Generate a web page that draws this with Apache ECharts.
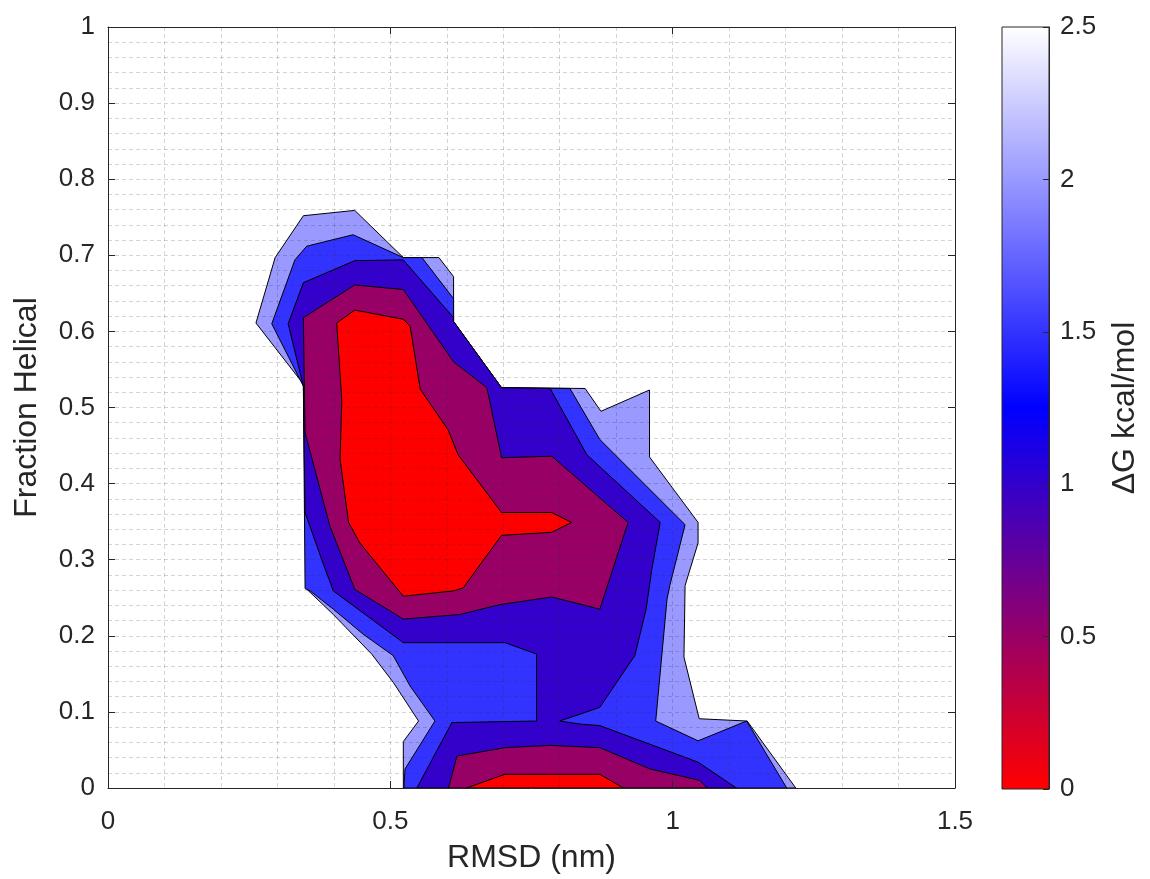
<!DOCTYPE html>
<html>
<head>
<meta charset="utf-8">
<title>Free energy landscape</title>
<script src="https://cdn.jsdelivr.net/npm/echarts@6/dist/echarts.min.js"></script>
<style>
  html, body { margin: 0; padding: 0; background: #ffffff; }
  #chart { width: 1150px; height: 879px; }
</style>
</head>
<body>
<div id="chart"></div>
<script>
// Axis ticks
const xTicks = [0, 0.5, 1, 1.5];
const yTicks = [0, 0.1, 0.2, 0.3, 0.4, 0.5, 0.6, 0.7, 0.8, 0.9, 1];
const cbarTicks = [0, 0.5, 1, 1.5, 2, 2.5];

// Colormap anchors (kcal/mol) and their colours
const cmapValues = [0, 1.25, 2.5];
const cmapColors = ['#ff0000', '#0000ff', '#ffffff'];

// Filled contour regions: each polygon is the set where dG is below the upper
// edge of its band, given as [RMSD (nm), fraction helical] vertices.
const bandLow = [2.0, 1.5, 1.0, 0.5, 0.5, 0.0, 0.0];

const region25 = [
  [0.262,0.611],[0.296,0.697],[0.346,0.752],[0.437,0.759],[0.523,0.697],[0.586,0.697],
  [0.612,0.672],[0.612,0.613],[0.697,0.526],[0.845,0.525],[0.873,0.495],[0.959,0.523],
  [0.959,0.435],[1.045,0.349],[1.045,0.322],[1.022,0.266],[1.020,0.172],[1.047,0.091],
  [1.132,0.088],[1.218,0],[0.523,0],[0.523,0.061],[0.550,0.088],[0.505,0.139],
  [0.467,0.176],[0.399,0.228],[0.351,0.262],[0.349,0.528]
];
const region20 = [
  [0.346,0.528],[0.290,0.610],[0.331,0.694],[0.352,0.712],[0.434,0.727],[0.523,0.697],
  [0.556,0.697],[0.612,0.643],[0.612,0.613],[0.697,0.526],[0.818,0.525],[0.871,0.458],
  [1.022,0.346],[0.995,0.266],[0.990,0.248],[0.970,0.088],[1.045,0.062],[1.131,0.088],
  [1.202,0],[0.524,0],[0.526,0.025],[0.579,0.088],[0.535,0.134],[0.505,0.174],
  [0.452,0.202],[0.399,0.235],[0.358,0.259],[0.349,0.262]
];
const region15 = [
  [0.346,0.528],[0.319,0.610],[0.346,0.664],[0.437,0.693],[0.523,0.694],[0.612,0.618],
  [0.612,0.613],[0.697,0.526],[0.783,0.525],[0.848,0.438],[0.978,0.349],[0.963,0.287],
  [0.953,0.235],[0.933,0.174],[0.871,0.106],[0.836,0.097],[0.800,0.088],[0.836,0.084],
  [0.871,0.082],[1.045,0.034],[1.113,0],[0.547,0],[0.609,0.086],[0.759,0.088],
  [0.759,0.176],[0.703,0.191],[0.523,0.191],[0.399,0.259],[0.378,0.301],[0.349,0.362]
];
const region10 = [
  [0.346,0.618],[0.437,0.661],[0.523,0.655],[0.612,0.560],[0.671,0.526],[0.697,0.434],
  [0.786,0.436],[0.921,0.349],[0.871,0.235],[0.786,0.251],[0.694,0.241],[0.623,0.228],
  [0.523,0.222],[0.437,0.261],[0.416,0.301],[0.393,0.344],[0.349,0.467]
];
const region10Floor = [
  [0.603,0],[0.618,0.042],[0.703,0.053],[0.783,0.056],[0.871,0.053],[0.960,0.025],
  [1.048,0.010],[1.061,0]
];
const region05 = [
  [0.405,0.611],[0.437,0.628],[0.523,0.616],[0.535,0.607],[0.553,0.524],[0.602,0.471],
  [0.620,0.438],[0.697,0.362],[0.786,0.362],[0.821,0.349],[0.786,0.336],[0.697,0.332],
  [0.629,0.263],[0.612,0.259],[0.523,0.252],[0.446,0.322],[0.426,0.349],[0.411,0.432],
  [0.414,0.510]
];
const region05Floor = [
  [0.635,0],[0.703,0.018],[0.871,0.018],[0.913,0]
];

const regions = [region25, region20, region15, region10, region10Floor, region05, region05Floor];

// Linear interpolation on the colormap
function hexToRgb(h) {
  return [parseInt(h.slice(1, 3), 16), parseInt(h.slice(3, 5), 16), parseInt(h.slice(5, 7), 16)];
}
function cmap(v) {
  for (let i = 0; i < cmapValues.length - 1; i++) {
    const a = cmapValues[i], b = cmapValues[i + 1];
    if (v <= b || i === cmapValues.length - 2) {
      const t = Math.max(0, Math.min(1, (v - a) / (b - a)));
      const c0 = hexToRgb(cmapColors[i]), c1 = hexToRgb(cmapColors[i + 1]);
      const c = c0.map((x, k) => Math.round(x + (c1[k] - x) * t));
      return 'rgb(' + c.join(',') + ')';
    }
  }
}

const FONT = "'Liberation Sans', Arial, Helvetica, sans-serif";
const INK = '#262626';
const TICK_FONT = 26;
const TITLE_FONT = 32;
const GRID_LINE = { color: 'rgba(38,38,38,0.2)', type: [4, 3], width: 1 };

const chart = echarts.init(document.getElementById('chart'), null, { renderer: 'canvas' });

const gradMin = cbarTicks[0], gradMax = cbarTicks[cbarTicks.length - 1];

const option = {
  animation: false,
  backgroundColor: '#ffffff',
  grid: [
    { left: 108, top: 27, width: 847, height: 762, show: false },
    { left: 1002, top: 27, width: 47, height: 762, show: false }
  ],
  xAxis: [
    {
      gridIndex: 0, type: 'value', min: xTicks[0], max: xTicks[xTicks.length - 1], interval: 0.5,
      position: 'bottom', z: 5,
      name: 'RMSD (nm)', nameLocation: 'middle', nameGap: 54,
      nameTextStyle: { fontFamily: FONT, fontSize: TITLE_FONT, color: INK },
      axisLine: { show: true, onZero: false, lineStyle: { color: INK, width: 1 } },
      axisTick: { show: true, inside: true, length: 7, lineStyle: { color: INK } },
      axisLabel: { fontFamily: FONT, fontSize: TICK_FONT, color: INK, margin: 21,
                   formatter: v => String(v) },
      splitLine: { show: true, lineStyle: GRID_LINE },
      minorTick: { show: false, splitNumber: 5 },
      minorSplitLine: { show: true, lineStyle: GRID_LINE }
    },
    {
      gridIndex: 0, type: 'value', min: xTicks[0], max: xTicks[xTicks.length - 1], interval: 0.5,
      position: 'top', z: 5,
      axisLine: { show: true, onZero: false, lineStyle: { color: INK, width: 1 } },
      axisTick: { show: true, inside: true, length: 7, lineStyle: { color: INK } },
      axisLabel: { show: false },
      splitLine: { show: false }
    },
    {
      gridIndex: 1, type: 'value', min: 0, max: 1, show: false
    }
  ],
  yAxis: [
    {
      gridIndex: 0, type: 'value', min: yTicks[0], max: yTicks[yTicks.length - 1], interval: 0.1,
      position: 'left', z: 5,
      name: 'Fraction Helical', nameLocation: 'middle', nameGap: 65, nameRotate: 90,
      nameTextStyle: { fontFamily: FONT, fontSize: TITLE_FONT, color: INK },
      axisLine: { show: true, onZero: false, lineStyle: { color: INK, width: 1 } },
      axisTick: { show: true, inside: true, length: 7, lineStyle: { color: INK } },
      axisLabel: { fontFamily: FONT, fontSize: TICK_FONT, color: INK, margin: 13,
                   formatter: v => String(Math.round(v * 10) / 10) },
      splitLine: { show: true, lineStyle: GRID_LINE },
      minorTick: { show: false, splitNumber: 5 },
      minorSplitLine: { show: true, lineStyle: GRID_LINE }
    },
    {
      gridIndex: 0, type: 'value', min: yTicks[0], max: yTicks[yTicks.length - 1], interval: 0.1,
      position: 'right', z: 5,
      axisLine: { show: true, onZero: false, lineStyle: { color: INK, width: 1 } },
      axisTick: { show: true, inside: true, length: 7, lineStyle: { color: INK } },
      axisLabel: { show: false },
      splitLine: { show: false }
    },
    {
      gridIndex: 1, type: 'value', min: gradMin, max: gradMax, interval: 0.5,
      position: 'right', z: 5,
      name: 'ΔG kcal/mol', nameLocation: 'middle', nameGap: 60, nameRotate: 90,
      nameTextStyle: { fontFamily: FONT, fontSize: TITLE_FONT, color: INK },
      axisLine: { show: true, onZero: false, lineStyle: { color: INK, width: 1 } },
      axisTick: { show: true, inside: true, length: 6, lineStyle: { color: INK } },
      axisLabel: { fontFamily: FONT, fontSize: TICK_FONT, color: INK, margin: 11,
                   formatter: v => String(Math.round(v * 10) / 10) },
      splitLine: { show: false }
    }
  ],
  series: [
    {
      type: 'custom',
      name: 'dG contours',
      xAxisIndex: 0, yAxisIndex: 0,
      coordinateSystem: 'cartesian2d',
      z: 2,
      clip: true,
      silent: true,
      data: regions.map((r, i) => [r[0][0], r[0][1], bandLow[i]]),
      renderItem: function (params, api) {
        const pts = regions[params.dataIndex].map(p => api.coord(p));
        return {
          type: 'polygon',
          shape: { points: pts },
          style: { fill: cmap(api.value(2)), stroke: '#000000', lineWidth: 1 }
        };
      }
    },
    {
      type: 'custom',
      name: 'colorbar',
      xAxisIndex: 2, yAxisIndex: 2,
      coordinateSystem: 'cartesian2d',
      z: 2,
      silent: true,
      data: [[0, gradMin, 1, gradMax]],
      renderItem: function (params, api) {
        const p0 = api.coord([api.value(0), api.value(3)]);
        const p1 = api.coord([api.value(2), api.value(1)]);
        const span = gradMax - gradMin;
        const stops = cmapValues.map((v, i) => ({
          offset: (gradMax - v) / span,
          color: cmapColors[i]
        })).sort((a, b) => a.offset - b.offset);
        return {
          type: 'rect',
          shape: { x: p0[0], y: p0[1], width: p1[0] - p0[0], height: p1[1] - p0[1] },
          style: {
            fill: new echarts.graphic.LinearGradient(0, 0, 0, 1, stops),
            stroke: INK, lineWidth: 1
          }
        };
      }
    }
  ]
};

chart.setOption(option);
</script>
</body>
</html>
